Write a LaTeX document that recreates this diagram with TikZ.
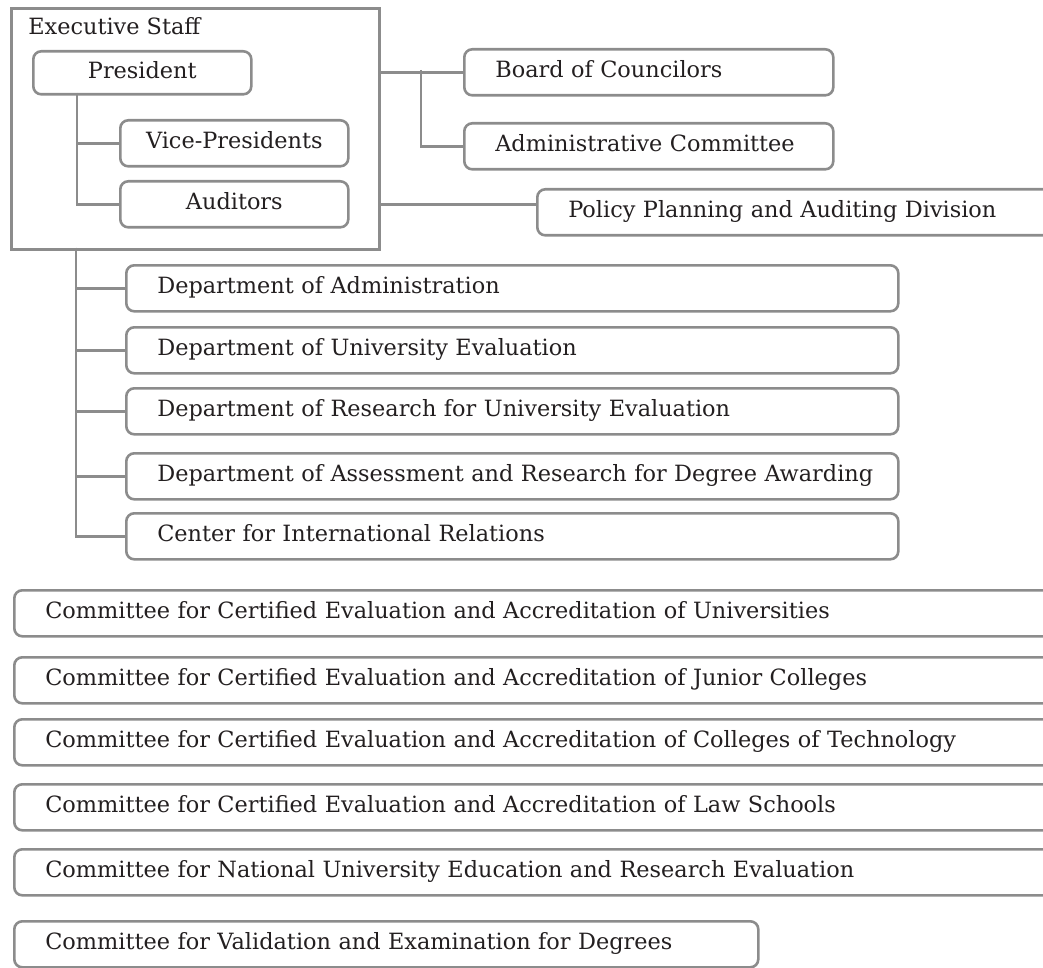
\documentclass[tikz,border=0pt]{standalone}
\usepackage{fontspec}
\setmainfont{DejaVu Serif}
\definecolor{framegray}{HTML}{8C8C8C}
\definecolor{inkgray}{HTML}{231F20}

\begin{document}
\begin{tikzpicture}[x=1pt,y=-1pt,line width=2.6pt,
    link/.style={draw=framegray},
    txt/.style={font=\fontsize{22.4}{26}\selectfont,text=inkgray},
    box/.style={txt,draw=framegray,rounded corners=8pt,anchor=north west,
      minimum height=46pt,inner ysep=0pt,text height=16.5pt,text depth=5.5pt},
    lbox/.style={box,inner xsep=0pt,text width=#1,align=left,
      execute at begin node={\hspace*{31pt}}},
    cbox/.style={box,inner xsep=0pt,minimum width=#1,align=center}]
\useasboundingbox (0,0) rectangle (1043,968);
\clip (0,0) rectangle (1043,968);
% executive staff
\node[draw=framegray,anchor=north west,inner sep=0pt,minimum width=368pt,
  minimum height=241pt] (exec) at (10,7) {};
\node[txt,anchor=base west,inner sep=0pt] (execlbl) at (27,35) {Executive Staff};
\node[cbox=218pt,minimum height=43pt] (pres) at (32,50) {President};
\node[cbox=228pt] (vp) at (119,119) {Vice-Presidents};
\node[cbox=228pt] (aud) at (119,180) {Auditors};
\coordinate (pj) at (77,93);
\draw[link] (pj) |- (vp.west);
\draw[link] (pj) |- (aud.west);
% right side
\node[lbox=369pt] (board) at (463,48) {Board of Councilors};
\node[lbox=369pt] (admin) at (463,122) {Administrative Committee};
\node[lbox=600pt] (policy) at (536,188) {Policy Planning and Auditing Division};
\draw[link] (exec.east |- board.west) -- (board.west);
\coordinate (bj) at (421,70);
\draw[link] (bj) |- (admin.west);
\draw[link] (exec.east |- aud.east) -- (aud.east -| policy.west);
% departments
\node[lbox=772pt] (d1) at (125,264) {Department of Administration};
\node[lbox=772pt] (d2) at (125,326) {Department of University Evaluation};
\node[lbox=772pt] (d3) at (125,387) {Department of Research for University Evaluation};
\node[lbox=772pt] (d4) at (125,452) {Department of Assessment and Research for Degree Awarding};
\node[lbox=772pt] (d5) at (125,512) {Center for International Relations};
\coordinate (dj) at (76,248);
\foreach \i in {1,...,5} \draw[link] (dj) |- (d\i.west);
% committees
\node[lbox=1100pt] (c1) at (13,589) {Committee for Certified Evaluation and Accreditation of Universities};
\node[lbox=1100pt] (c2) at (13,656) {Committee for Certified Evaluation and Accreditation of Junior Colleges};
\node[lbox=1100pt] (c3) at (13,718) {Committee for Certified Evaluation and Accreditation of Colleges of Technology};
\node[lbox=1100pt] (c4) at (13,783) {Committee for Certified Evaluation and Accreditation of Law Schools};
\node[lbox=1100pt] (c5) at (13,848) {Committee for National University Education and Research Evaluation};
\node[lbox=744pt] (c6) at (13,920) {Committee for Validation and Examination for Degrees};
\end{tikzpicture}
\end{document}
